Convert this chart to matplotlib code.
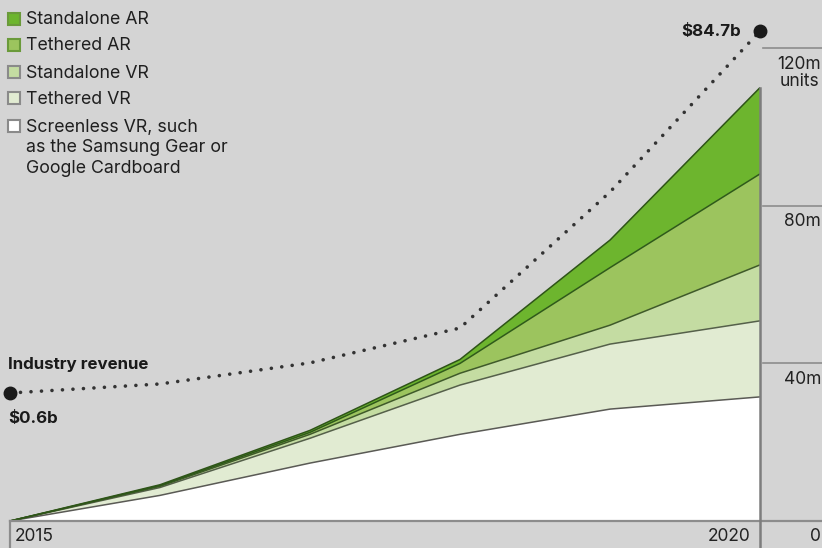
import matplotlib
matplotlib.use("Agg")
import matplotlib.pyplot as plt
from matplotlib.patches import Rectangle

plt.rcParams['font.family'] = ['Inter', 'DejaVu Sans']

# shipments, millions of units, stacked bottom to top
years = [2015, 2016, 2017, 2018, 2019, 2020]
screenless_vr = [0, 6.5, 14.7, 22.0, 28.4, 31.5]
tethered_vr = [0, 2.0, 6.3, 12.5, 16.5, 19.3]
standalone_vr = [0, 0.3, 1.0, 3.0, 4.8, 14.2]
tethered_ar = [0, 0.2, 0.5, 2.5, 14.6, 23.1]
standalone_ar = [0, 0.2, 0.5, 1.0, 7.0, 21.9]

# industry revenue, $ billions
revenue = [0.6, 2.7, 7.6, 15.7, 47.3, 84.7]

layer_names = ["Screenless VR, such\nas the Samsung Gear or\nGoogle Cardboard",
               "Tethered VR", "Standalone VR", "Tethered AR", "Standalone AR"]
layer_colors = ["#ffffff", "#e1ebd2", "#c4dca2", "#9cc45e", "#6db52e"]
edge_colors = ["#5a5a55", "#55604a", "#3f5a2a", "#2f5a1a", "#2e5418"]
grid_ticks = [0, 40, 80, 120]
grid_labels = ["0", "40m", "80m", "120m\nunits"]

W, H = 822, 548
bg = "#d4d4d4"
fig = plt.figure(figsize=(W / 100, H / 100), dpi=100, facecolor=bg)
ax = fig.add_axes([0, 0, 1, 1])
ax.set_facecolor(bg)

# 2015 sits at x=10px, 2020 at x=760px; 0 units at y=521px, 3.94 px per million
px_year = 150.0
ax.set_xlim(2015 - 10 / px_year, 2020 + (W - 760) / px_year)
ppm = 3.94
ax.set_ylim(-(H - 521) / ppm, 521 / ppm)
ax.axis("off")

layers = [screenless_vr, tethered_vr, standalone_vr, tethered_ar, standalone_ar]
ax.stackplot(years, *layers, colors=layer_colors, linewidth=0)
running = [0] * len(years)
for vals, ec in zip(layers, edge_colors):
    running = [r + v for r, v in zip(running, vals)]
    ax.plot(years, running, color=ec, lw=1.1, solid_capstyle="butt")

# axes furniture
gcol = "#8c8c8c"
tcol = "#222222"
ymin = ax.get_ylim()[0]
xmax = ax.get_xlim()[1]
ax.plot([2015, xmax], [0, 0], color=gcol, lw=1.6)
ax.plot([2015, 2015], [ymin, 0], color=gcol, lw=1.6)
ax.plot([2020, 2020], [ymin, running[-1]], color="#7d7d7d", lw=1.8)
for t, lab in zip(grid_ticks, grid_labels):
    if t > 0:
        ax.plot([2020.02, xmax], [t, t], color=gcol, lw=1.2)
    ax.text(2020 + 61 / px_year, t - 1.9, lab, ha="right", va="top",
            multialignment="center", fontsize=12.5, color=tcol,
            linespacing=1.0)

ax.text(2015 + 5 / px_year, -4.0, "2015", ha="left", va="center",
        fontsize=12.5, color=tcol)
ax.text(2020 - 9 / px_year, -4.0, "2020", ha="right", va="center",
        fontsize=12.5, color=tcol)

# revenue on its own scale
rx = ax.twinx()
rx.set_xlim(ax.get_xlim())
rx.set_ylim(0.6 - (H - 393) / 4.304, 0.6 + 393 / 4.304)
rx.axis("off")
rx.plot(years, revenue, color="#333333", lw=2.6, dashes=(0.01, 2.9),
        dash_capstyle="round")
rx.plot([years[0], years[-1]], [revenue[0], revenue[-1]], "o",
        color="#1a1a1a", ms=9)
bold = dict(fontsize=12.2, fontweight="bold", color="#1a1a1a", va="center")
rx.text(2015 - 2 / px_year, revenue[0] + 6.6, "Industry revenue", ha="left", **bold)
rx.text(2015 - 2 / px_year, revenue[0] - 5.9, "$%.1fb" % revenue[0], ha="left", **bold)
rx.text(2020 - 19 / px_year, revenue[-1], "$%.1fb" % revenue[-1], ha="right", **bold)

# legend, top item first
rows_y = [19, 45, 72, 98, 126]
for name, fc, y in zip(layer_names[::-1], layer_colors[::-1], rows_y):
    border = "#6a9a3a" if fc in ("#6db52e", "#9cc45e") else "#8a8a8a"
    fig.add_artist(Rectangle((8 / W, 1 - (y + 6) / H), 12 / W, 12 / H,
                             transform=fig.transFigure, facecolor=fc,
                             edgecolor=border, lw=1.5))
    fig.text(26 / W, 1 - (y - 7.5) / H, name, ha="left", va="top",
             fontsize=12.8, color="#1f1f1f", linespacing=1.28)

fig.savefig("out.png", dpi=100, facecolor=bg)
